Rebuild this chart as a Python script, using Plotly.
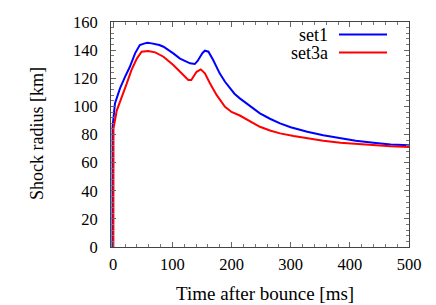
import plotly.graph_objects as go

# set1 (blue)
t_set1 = [-1.2, -1.0, 3, 11.5, 20, 28, 37, 45, 52, 58, 65, 71, 78, 85, 92, 101.6, 113, 122, 130, 138, 143, 147, 151, 155, 161, 169, 180, 189, 197, 205, 214, 231, 248, 265, 282, 300, 328, 355, 384, 410, 440, 469, 500]
r_set1 = [0, 85.5, 102, 112.8, 121, 128, 137.7, 143.6, 144.6, 145.3, 144.8, 144.4, 143.6, 142.4, 140.5, 137.7, 134, 132, 130.6, 130.1, 132.5, 135.3, 138, 139.6, 138.9, 133, 123.5, 117.5, 112.8, 109, 105.7, 100.4, 95, 91.2, 87.9, 85.2, 81.9, 79.4, 77.2, 75.6, 74.1, 72.9, 72.4]

# set3a (red)
t_set3a = [0.3, 0.5, 6, 14, 23, 31, 40, 48, 59, 71, 78, 85, 92, 101.6, 113, 121, 127, 132, 137, 141, 148, 155, 163.5, 175, 189, 200, 214, 231, 248, 265, 282, 305, 328, 355, 384, 410, 440, 469, 500]
r_set3a = [0, 84.3, 97, 106.8, 116.4, 125.9, 134, 138.9, 139.4, 138.4, 137, 135.3, 132.8, 129.4, 124.6, 121, 118.7, 118.7, 121.5, 124.6, 126.3, 123.5, 116.4, 108, 99.7, 96, 93.5, 89.5, 85.5, 82.8, 80.8, 79, 77.2, 75.6, 74.1, 73.2, 72.4, 71.7, 71.2]

series = [("set1", t_set1, r_set1, "#0000ff"), ("set3a", t_set3a, r_set3a, "#ff0000")]

x_ticks = [0, 100, 200, 300, 400, 500]
y_ticks = [0, 20, 40, 60, 80, 100, 120, 140, 160]
x_title = "Time after bounce [ms]"
y_title = "Shock radius [km]"

FONT = "'Liberation Serif', 'Times New Roman', Times, serif"
TICK_SIZE = 16.5
TEXT_SIZE = 18
L, T, PW, PH = 111, 22, 298, 225


def px(x):
    return (x - L) / PW


def py(y):
    return 1 - (y - T) / PH


fig = go.Figure()
for name, t, r, c in series:
    fig.add_trace(go.Scatter(x=t, y=r, mode="lines", name=name,
                             line=dict(color=c, width=2), showlegend=False))

# gnuplot-style legend: text on the left, sample line on the right
legend_y = [34.5, 52.5]
for (name, t, r, c), yy in zip(series, legend_y):
    fig.add_annotation(xref="paper", yref="paper", x=px(329), y=py(yy),
                       text=name, showarrow=False, xanchor="right", yanchor="middle",
                       borderpad=0,
                       font=dict(family=FONT, size=TEXT_SIZE, color="black"))
    fig.add_shape(type="line", xref="paper", yref="paper",
                  x0=px(339), x1=px(387), y0=py(yy), y1=py(yy),
                  line=dict(color=c, width=2))

# axis titles
fig.add_annotation(xref="paper", yref="paper", x=px(265), y=py(293), text=x_title,
                   showarrow=False, xanchor="center", yanchor="middle",
                   font=dict(family=FONT, size=19, color="black"))
fig.add_annotation(xref="paper", yref="paper", x=px(37), y=py(134), text=y_title,
                   showarrow=False, xanchor="center", yanchor="middle", textangle=-90,
                   font=dict(family=FONT, size=TEXT_SIZE, color="black"))

axis_common = dict(showline=True, linecolor="#444", linewidth=1, mirror="allticks",
                   ticks="inside", ticklen=5, tickcolor="#666", tickwidth=1,
                   showgrid=False, zeroline=False, automargin=False,
                   tickfont=dict(family=FONT, size=TICK_SIZE, color="black"))

fig.update_xaxes(range=[-3.7, 500], tickvals=x_ticks, ticktext=[str(v) for v in x_ticks],
                 minor=dict(dtick=20, ticks="inside", ticklen=3, tickcolor="#777", showgrid=False),
                 ticklabelstandoff=2,
                 **axis_common)
fig.update_yaxes(range=[0, 160], tickvals=y_ticks, ticktext=[str(v) for v in y_ticks],
                 minor=dict(dtick=4, ticks="inside", ticklen=3, tickcolor="#777", showgrid=False),
                 ticklabelstandoff=9,
                 **axis_common)

fig.update_layout(width=436, height=305, margin=dict(l=L, r=436 - L - PW, t=T, b=305 - T - PH),
                  plot_bgcolor="white", paper_bgcolor="white", showlegend=False)

fig.write_html("out.html", config={"displayModeBar": False},
               post_script="document.body.style.margin='0';document.body.style.overflow='hidden';")
